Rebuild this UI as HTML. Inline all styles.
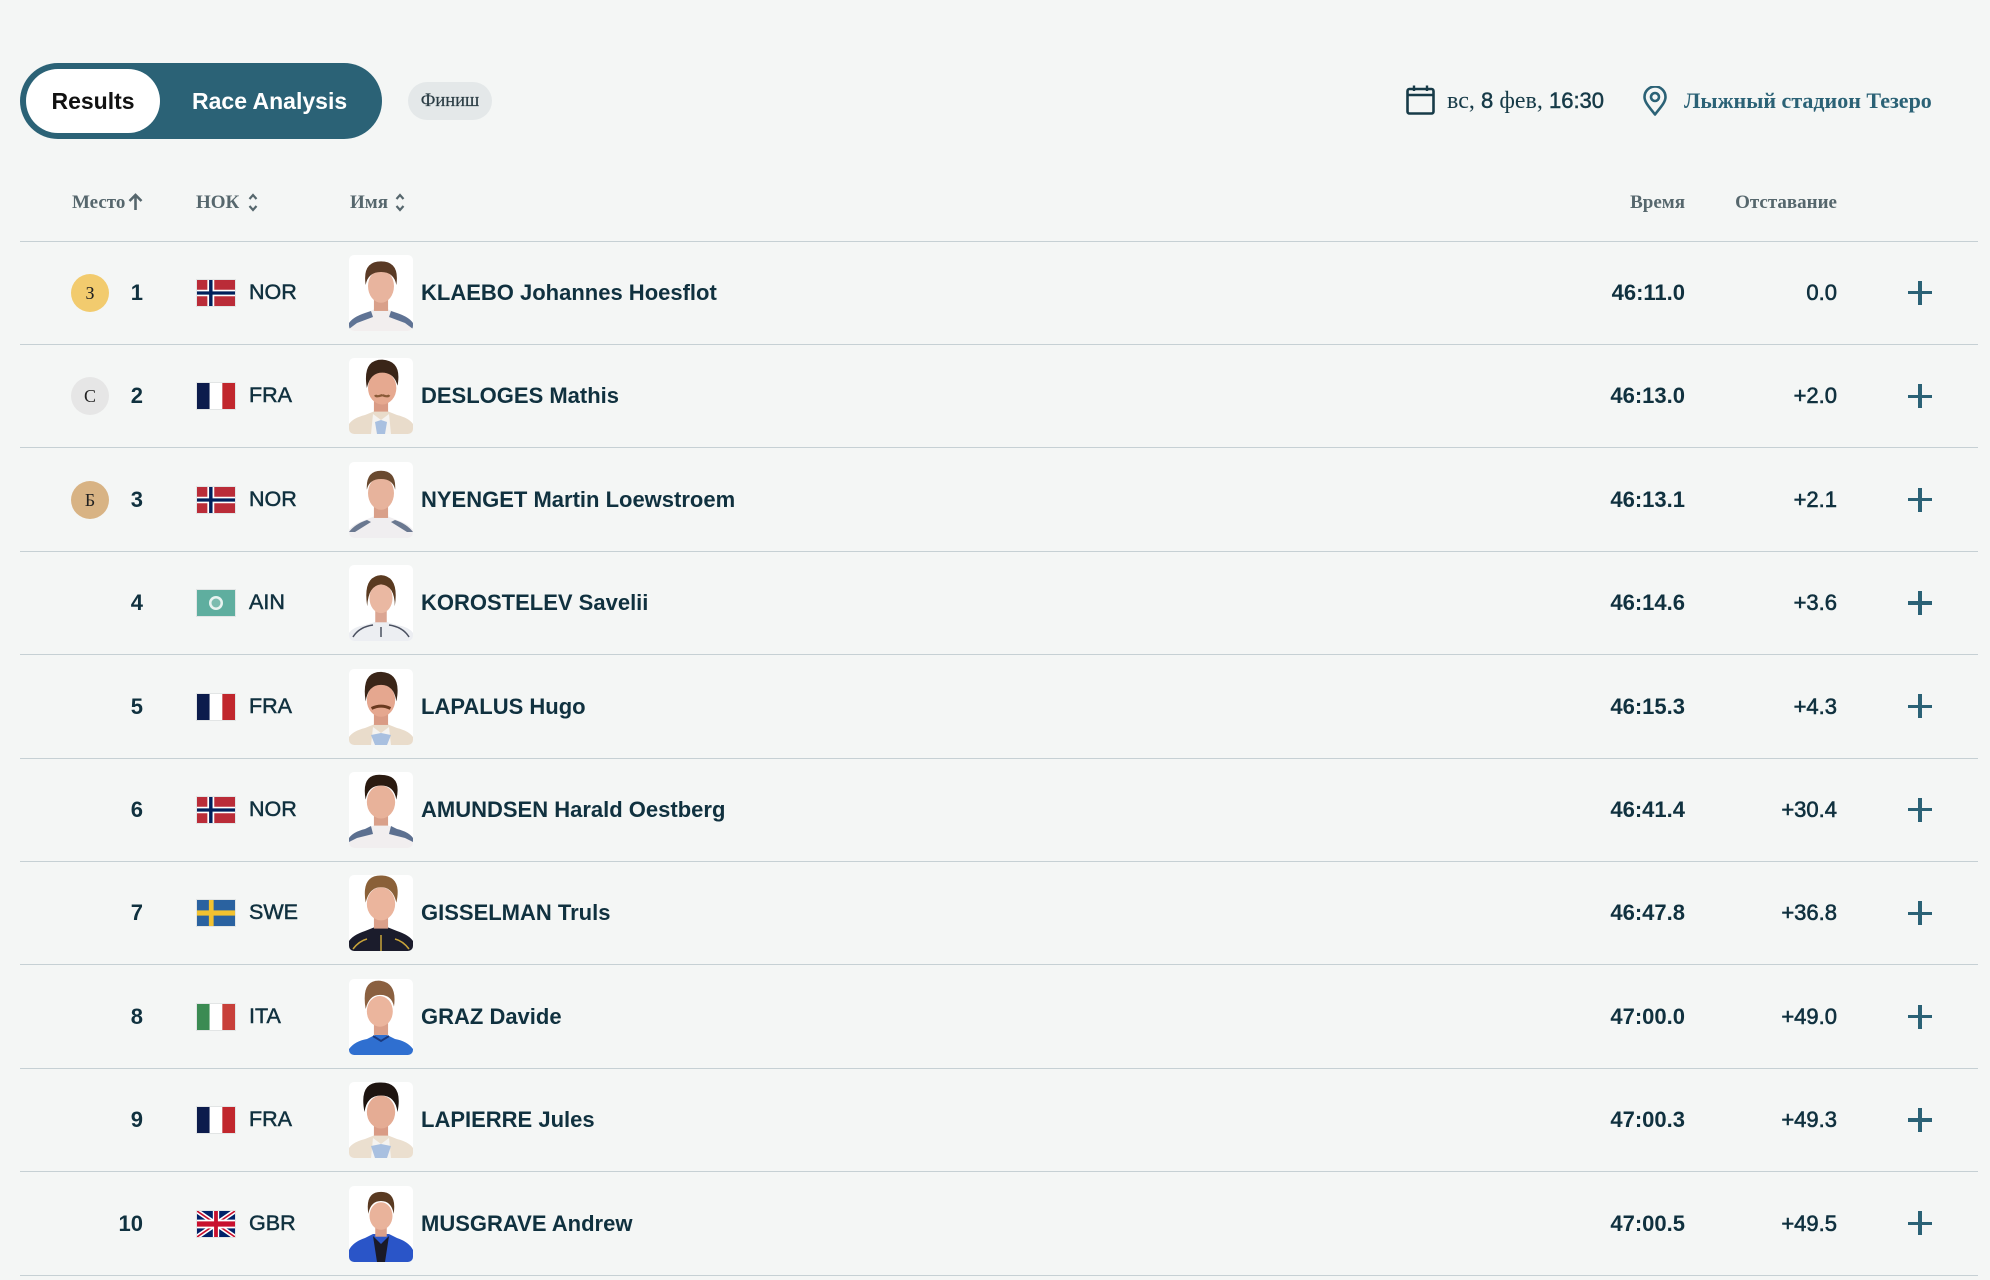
<!DOCTYPE html>
<html><head><meta charset="utf-8">
<style>
*{margin:0;padding:0;box-sizing:border-box}
html,body{width:1990px;height:1280px;overflow:hidden;background:#f4f6f5}
body{position:relative;font-family:"Liberation Sans",sans-serif;color:#10313f}
.abs{position:absolute}
.serif{font-family:"Liberation Serif",serif}
.toggle{left:20px;top:63px;width:362px;height:76px;border-radius:38px;background:#2b6276}
.pill{left:26px;top:69px;width:134px;height:64px;border-radius:32px;background:#fff;text-align:center;line-height:64px;font-weight:bold;font-size:23px;color:#111}
.ra{left:192px;top:63px;line-height:76px;font-size:23px;font-weight:bold;color:#fff}
.chip{left:408px;top:82px;width:84px;height:38px;border-radius:19px;background:#e4e8e9;text-align:center;line-height:38px;font-size:18.5px;color:#2a3c44;font-family:"Liberation Serif",serif;-webkit-text-stroke:0.2px #2a3c44}
.hd{top:191px;line-height:24px;font-family:"Liberation Serif",serif;font-weight:bold;font-size:19px;color:#56676d;white-space:nowrap}
.line{left:20px;width:1958px;height:1px;background:#c6d0d4}
.row{left:0;width:1990px;height:103.4px}
.row>*{position:absolute}
.medal{left:71px;top:33px;width:38px;height:38px;border-radius:50%;text-align:center;line-height:38px;font-family:"Liberation Serif",serif;font-size:18px;color:#222}
.rank{left:80px;width:63px;text-align:right;top:0;line-height:103.4px;font-size:22px;font-weight:bold}
.flag{left:197px;top:39px;width:38px;height:26px;outline:1px solid #e2e5e5}
.flag svg{display:block;width:38px;height:26px}
.noc{left:249px;top:0;line-height:103.4px;font-size:21.5px;-webkit-text-stroke:0.5px #10313f}
.ph{left:349px;top:14px;width:64px;height:76px;border-radius:5px;overflow:hidden;background:#fff}
.ph svg{display:block}
.nm{left:421px;top:0;line-height:103.4px;font-size:22px;font-weight:bold;white-space:nowrap}
.tm{right:305px;top:0;line-height:103.4px;font-size:22px;font-weight:bold}
.gp{right:153px;top:0;line-height:103.4px;font-size:22px;-webkit-text-stroke:0.6px #10313f}
.plh{left:1908px;top:50.2px;width:24px;height:3.2px;background:#2b6276}
.plv{left:1918.4px;top:39.8px;width:3.2px;height:24px;background:#2b6276}
</style></head><body>

<div class="abs toggle"></div>
<div class="abs pill">Results</div>
<div class="abs ra">Race Analysis</div>
<div class="abs chip">Финиш</div>

<svg class="abs" style="left:1406px;top:85px" width="30" height="30" viewBox="0 0 30 30">
<rect x="1.5" y="4" width="26" height="24.5" rx="2" fill="none" stroke="#173b48" stroke-width="2.6"/>
<line x1="1.5" y1="10" x2="27.5" y2="10" stroke="#173b48" stroke-width="2.4"/>
<line x1="8" y1="0.5" x2="8" y2="6" stroke="#173b48" stroke-width="2.4"/>
<line x1="21" y1="0.5" x2="21" y2="6" stroke="#173b48" stroke-width="2.4"/>
</svg>
<div class="abs" style="left:1447px;top:86px;line-height:30px;font-size:22px;color:#173b48;white-space:nowrap"><span class="serif" style="font-size:24px">вс,</span><span style="-webkit-text-stroke:0.5px #173b48"> 8 </span><span class="serif" style="font-size:24px">фев,</span><span style="-webkit-text-stroke:0.5px #173b48"> 16:30</span></div>

<svg class="abs" style="left:1642px;top:86px" width="26" height="30" viewBox="0 0 26 30">
<path d="M13 28.5 C8 22 2.5 16.5 2.5 11 A10.5 10.5 0 0 1 23.5 11 C23.5 16.5 18 22 13 28.5Z" fill="none" stroke="#2b6276" stroke-width="2.6" stroke-linejoin="round"/>
<circle cx="13" cy="11" r="4" fill="none" stroke="#2b6276" stroke-width="2.6"/>
</svg>
<div class="abs serif" style="left:1684px;top:86px;line-height:30px;font-size:22px;font-weight:bold;color:#2b6276;white-space:nowrap">Лыжный стадион Тезеро</div>

<div class="abs hd" style="left:72px">Место</div>
<svg class="abs" style="left:128px;top:193px" width="15" height="18" viewBox="0 0 15 18"><path d="M7.5 17V2 M1.5 8 L7.5 2 L13.5 8" fill="none" stroke="#56676d" stroke-width="2.6"/></svg>
<div class="abs hd" style="left:196px">НОК</div>
<svg class="abs" style="left:248px;top:193px" width="10" height="19" viewBox="0 0 10 19"><path d="M1.5 6 L5 2 L8.5 6 M1.5 13 L5 17 L8.5 13" fill="none" stroke="#56676d" stroke-width="2.2"/></svg>
<div class="abs hd" style="left:350px">Имя</div>
<svg class="abs" style="left:395px;top:193px" width="10" height="19" viewBox="0 0 10 19"><path d="M1.5 6 L5 2 L8.5 6 M1.5 13 L5 17 L8.5 13" fill="none" stroke="#56676d" stroke-width="2.2"/></svg>
<div class="abs hd" style="right:305px">Время</div>
<div class="abs hd" style="right:153px">Отставание</div>

<div class="abs line" style="top:240.5px"></div>
<div class="abs line" style="top:344px"></div>
<div class="abs line" style="top:447.3px"></div>
<div class="abs line" style="top:550.7px"></div>
<div class="abs line" style="top:654.1px"></div>
<div class="abs line" style="top:757.5px"></div>
<div class="abs line" style="top:860.9px"></div>
<div class="abs line" style="top:964.3px"></div>
<div class="abs line" style="top:1067.7px"></div>
<div class="abs line" style="top:1171.1px"></div>
<div class="abs line" style="top:1274.5px"></div>

<!-- Row 1 -->
<div class="abs row" style="top:241px">
<div class="medal" style="background:#f2cb6e">З</div>
<div class="rank">1</div>
<div class="flag"><svg viewBox="0 0 22 16" preserveAspectRatio="none"><rect width="22" height="16" fill="#ba2c38"/><rect x="6" width="4" height="16" fill="#fff"/><rect y="6" width="22" height="4" fill="#fff"/><rect x="7" width="2" height="16" fill="#00205b"/><rect y="7" width="22" height="2" fill="#00205b"/></svg></div>
<div class="noc">NOR</div>
<div class="ph"><svg width="64" height="76" viewBox="0 0 64 76"><path d="M0 76V68Q4 62 16 58L26 54H38L48 58Q60 62 64 68V76Z" fill="#f2eeee"/><path d="M0 68Q4 62 16 58L22 56 24 62 8 68 0 74Z M64 68Q60 62 48 58L42 56 40 62 56 68 64 74Z" fill="#5f7394"/><g transform="translate(32 30) scale(1.18) translate(-32 -30)"><rect x="26" y="42" width="12" height="10" fill="#d9a08a"/><ellipse cx="32" cy="31" rx="11" ry="14" fill="#e8b49e"/><path d="M19 30Q16 10 32 10Q48 10 45 30Q43 19 32 19Q21 19 19 30Z" fill="#5a3a25"/></g></svg></div>
<div class="nm">KLAEBO Johannes Hoesflot</div>
<div class="tm">46:11.0</div>
<div class="gp">0.0</div>
<div class="plh"></div><div class="plv"></div>
</div>

<!-- Row 2 -->
<div class="abs row" style="top:344.4px">
<div class="medal" style="background:#e6e6e6">С</div>
<div class="rank">2</div>
<div class="flag"><svg viewBox="0 0 3 2" preserveAspectRatio="none"><rect width="1" height="2" fill="#0c1c4c"/><rect x="1" width="1" height="2" fill="#fff"/><rect x="2" width="1" height="2" fill="#c1272d"/></svg></div>
<div class="noc">FRA</div>
<div class="ph"><svg width="64" height="76" viewBox="0 0 64 76"><path d="M0 76V66Q4 60 16 57L26 53H38L48 57Q60 60 64 66V76Z" fill="#e9dccb"/><path d="M24 56L32 62 40 56 42 76H22Z" fill="#f5f3f0"/><path d="M26 64L32 62 38 64 36 76H28Z" fill="#a9c0e0"/><g transform="translate(32 30) scale(1.18) translate(-32 -30)"><rect x="26" y="40" width="12" height="10" fill="#d99b85"/><ellipse cx="33" cy="30" rx="12" ry="14" fill="#e6a990"/><path d="M33 36Q28 38 27 36 M33 36Q38 38 39 36" stroke="#8a5a38" stroke-width="2" fill="none"/><path d="M20 30Q16 6 33 6Q50 7 46 28Q43 17 33 17Q23 17 20 30Z" fill="#3a2518"/></g></svg></div>
<div class="nm">DESLOGES Mathis</div>
<div class="tm">46:13.0</div>
<div class="gp">+2.0</div>
<div class="plh"></div><div class="plv"></div>
</div>

<!-- Row 3 -->
<div class="abs row" style="top:447.8px">
<div class="medal" style="background:#d8b384">Б</div>
<div class="rank">3</div>
<div class="flag"><svg viewBox="0 0 22 16" preserveAspectRatio="none"><rect width="22" height="16" fill="#ba2c38"/><rect x="6" width="4" height="16" fill="#fff"/><rect y="6" width="22" height="4" fill="#fff"/><rect x="7" width="2" height="16" fill="#00205b"/><rect y="7" width="22" height="2" fill="#00205b"/></svg></div>
<div class="noc">NOR</div>
<div class="ph"><svg width="64" height="76" viewBox="0 0 64 76"><path d="M0 76V68Q4 62 16 58L26 54H38L48 58Q60 62 64 68V76Z" fill="#f0eef0"/><path d="M0 70Q6 62 18 58L22 60 6 70Z M64 70Q58 62 46 58L42 60 58 70Z" fill="#6a7890"/><g transform="translate(32 30) scale(1.18) translate(-32 -30)"><rect x="26" y="42" width="12" height="10" fill="#d9a08a"/><ellipse cx="32" cy="31" rx="11" ry="14" fill="#e7b39c"/><path d="M20 28Q19 12 32 12Q45 12 44 28Q42 19 32 19Q22 19 20 28Z" fill="#6a4a30"/></g></svg></div>
<div class="nm">NYENGET Martin Loewstroem</div>
<div class="tm">46:13.1</div>
<div class="gp">+2.1</div>
<div class="plh"></div><div class="plv"></div>
</div>

<!-- Row 4 -->
<div class="abs row" style="top:551.2px">
<div class="rank">4</div>
<div class="flag"><svg viewBox="0 0 38 26" preserveAspectRatio="none"><rect width="38" height="26" fill="#5fae9f"/><circle cx="19" cy="13" r="7" fill="#e8f3f0"/><circle cx="19" cy="13" r="4.5" fill="#7cbcaf"/></svg></div>
<div class="noc">AIN</div>
<div class="ph"><svg width="64" height="76" viewBox="0 0 64 76"><path d="M0 76V68Q4 62 16 60L26 57H38L48 60Q60 62 64 68V76Z" fill="#eceef2"/><path d="M4 72Q10 62 24 60 M60 72Q54 62 40 60 M32 62V72" stroke="#4a5060" stroke-width="1.5" fill="none"/><g transform="translate(32 32) scale(1.15) translate(-32 -32)"><rect x="27" y="44" width="10" height="10" fill="#dba592"/><ellipse cx="32" cy="33" rx="10" ry="13" fill="#eab8a2"/><path d="M20 40Q16 14 32 13Q48 14 44 40Q44 22 32 21Q21 22 20 40Z" fill="#5a3a20"/></g></svg></div>
<div class="nm">KOROSTELEV Savelii</div>
<div class="tm">46:14.6</div>
<div class="gp">+3.6</div>
<div class="plh"></div><div class="plv"></div>
</div>

<!-- Row 5 -->
<div class="abs row" style="top:654.6px">
<div class="rank">5</div>
<div class="flag"><svg viewBox="0 0 3 2" preserveAspectRatio="none"><rect width="1" height="2" fill="#0c1c4c"/><rect x="1" width="1" height="2" fill="#fff"/><rect x="2" width="1" height="2" fill="#c1272d"/></svg></div>
<div class="noc">FRA</div>
<div class="ph"><svg width="64" height="76" viewBox="0 0 64 76"><path d="M0 76V68Q4 62 16 59L26 55H38L48 59Q60 62 64 68V76Z" fill="#e9dccb"/><path d="M24 58L32 64 40 58 42 76H22Z" fill="#f5f3f0"/><path d="M22 66L32 64 42 66 38 76H26Z" fill="#a9c0e0"/><g transform="translate(32 30) scale(1.18) translate(-32 -30)"><rect x="26" y="42" width="12" height="10" fill="#d99b85"/><ellipse cx="32" cy="31" rx="12" ry="14" fill="#e5a78f"/><path d="M24 38Q32 34 40 38" stroke="#6a3a20" stroke-width="2.5" fill="none"/><path d="M19 32Q15 7 32 7Q50 8 45 32Q43 18 32 18Q21 18 19 32Z" fill="#3a2518"/></g></svg></div>
<div class="nm">LAPALUS Hugo</div>
<div class="tm">46:15.3</div>
<div class="gp">+4.3</div>
<div class="plh"></div><div class="plv"></div>
</div>

<!-- Row 6 -->
<div class="abs row" style="top:758px">
<div class="rank">6</div>
<div class="flag"><svg viewBox="0 0 22 16" preserveAspectRatio="none"><rect width="22" height="16" fill="#ba2c38"/><rect x="6" width="4" height="16" fill="#fff"/><rect y="6" width="22" height="4" fill="#fff"/><rect x="7" width="2" height="16" fill="#00205b"/><rect y="7" width="22" height="2" fill="#00205b"/></svg></div>
<div class="noc">NOR</div>
<div class="ph"><svg width="64" height="76" viewBox="0 0 64 76"><path d="M0 76V66Q4 60 16 57L26 53H38L48 57Q60 60 64 66V76Z" fill="#f1eeef"/><path d="M0 66Q4 60 16 57L22 54 24 62 8 66 0 70Z M64 66Q60 60 48 57L42 54 40 62 56 66 64 70Z" fill="#5c7090"/><g transform="translate(32 30) scale(1.18) translate(-32 -30)"><rect x="26" y="40" width="12" height="10" fill="#d9a08a"/><ellipse cx="32" cy="30" rx="12" ry="14" fill="#e8b29a"/><path d="M19 28Q15 6 32 7Q50 7 45 28Q43 16 32 16Q21 16 19 28Z" fill="#2a1a10"/></g></svg></div>
<div class="nm">AMUNDSEN Harald Oestberg</div>
<div class="tm">46:41.4</div>
<div class="gp">+30.4</div>
<div class="plh"></div><div class="plv"></div>
</div>

<!-- Row 7 -->
<div class="abs row" style="top:861.4px">
<div class="rank">7</div>
<div class="flag"><svg viewBox="0 0 16 10" preserveAspectRatio="none"><rect width="16" height="10" fill="#2a62a0"/><rect x="5" width="2" height="10" fill="#f2c230"/><rect y="4" width="16" height="2" fill="#f2c230"/></svg></div>
<div class="noc">SWE</div>
<div class="ph"><svg width="64" height="76" viewBox="0 0 64 76"><path d="M0 76V66Q4 60 16 56L26 52H38L48 56Q60 60 64 66V76Z" fill="#1b1c2c"/><path d="M4 74Q10 66 18 64 M60 74Q54 66 46 64 M32 60V76" stroke="#c9a43a" stroke-width="1.5" fill="none"/><g transform="translate(32 30) scale(1.18) translate(-32 -30)"><rect x="26" y="40" width="12" height="10" fill="#dba08a"/><ellipse cx="32" cy="29" rx="12" ry="14" fill="#ebb59d"/><path d="M19 28Q15 4 33 5Q50 6 45 28Q42 15 32 15Q22 15 19 28Z" fill="#8a6038"/></g></svg></div>
<div class="nm">GISSELMAN Truls</div>
<div class="tm">46:47.8</div>
<div class="gp">+36.8</div>
<div class="plh"></div><div class="plv"></div>
</div>

<!-- Row 8 -->
<div class="abs row" style="top:964.8px">
<div class="rank">8</div>
<div class="flag"><svg viewBox="0 0 3 2" preserveAspectRatio="none"><rect width="1" height="2" fill="#3b8b53"/><rect x="1" width="1" height="2" fill="#fff"/><rect x="2" width="1" height="2" fill="#c8403a"/></svg></div>
<div class="noc">ITA</div>
<div class="ph"><svg width="64" height="76" viewBox="0 0 64 76"><path d="M0 76V70Q6 62 18 60L26 56H38L46 60Q58 62 64 70V76Z" fill="#2f6fd0"/><path d="M24 57L32 62 40 57" stroke="#1a3a80" stroke-width="2" fill="none"/><g transform="translate(32 30) scale(1.18) translate(-32 -30)"><rect x="26" y="42" width="12" height="10" fill="#dba08a"/><ellipse cx="31" cy="32" rx="11" ry="13" fill="#ebb59d"/><path d="M19 30Q15 6 30 6Q46 7 43 28Q41 18 31 18Q22 18 19 30Z" fill="#8a6040"/></g></svg></div>
<div class="nm">GRAZ Davide</div>
<div class="tm">47:00.0</div>
<div class="gp">+49.0</div>
<div class="plh"></div><div class="plv"></div>
</div>

<!-- Row 9 -->
<div class="abs row" style="top:1068.2px">
<div class="rank">9</div>
<div class="flag"><svg viewBox="0 0 3 2" preserveAspectRatio="none"><rect width="1" height="2" fill="#0c1c4c"/><rect x="1" width="1" height="2" fill="#fff"/><rect x="2" width="1" height="2" fill="#c1272d"/></svg></div>
<div class="noc">FRA</div>
<div class="ph"><svg width="64" height="76" viewBox="0 0 64 76"><path d="M0 76V66Q4 60 16 57L26 53H38L48 57Q60 60 64 66V76Z" fill="#ebdfcf"/><path d="M24 56L32 62 40 56 42 76H22Z" fill="#f5f3f0"/><path d="M22 64L32 62 42 64 38 76H26Z" fill="#a9c0e0"/><g transform="translate(32 30) scale(1.18) translate(-32 -30)"><rect x="26" y="40" width="12" height="10" fill="#d99b85"/><ellipse cx="32" cy="30" rx="12" ry="14" fill="#e5ac94"/><path d="M18 30Q13 4 32 5Q51 5 46 30Q44 16 32 16Q20 16 18 30Z" fill="#1e1410"/></g></svg></div>
<div class="nm">LAPIERRE Jules</div>
<div class="tm">47:00.3</div>
<div class="gp">+49.3</div>
<div class="plh"></div><div class="plv"></div>
</div>

<!-- Row 10 -->
<div class="abs row" style="top:1171.6px">
<div class="rank">10</div>
<div class="flag"><svg viewBox="0 0 60 30" preserveAspectRatio="none"><rect width="60" height="30" fill="#012169"/><path d="M0,0 L60,30 M60,0 L0,30" stroke="#fff" stroke-width="6"/><path d="M0,0 L60,30 M60,0 L0,30" stroke="#C8102E" stroke-width="2"/><path d="M30,0 v30 M0,15 h60" stroke="#fff" stroke-width="10"/><path d="M30,0 v30 M0,15 h60" stroke="#C8102E" stroke-width="6"/></svg></div>
<div class="noc">GBR</div>
<div class="ph"><svg width="64" height="76" viewBox="0 0 64 76"><path d="M0 76V64Q4 56 16 52L24 48H40L48 52Q60 56 64 64V76Z" fill="#2a55c8"/><path d="M24 50L32 58 40 50 36 76H28Z" fill="#1a1a28"/><g transform="translate(32 30) scale(1.15) translate(-32 -30)"><rect x="27" y="40" width="10" height="8" fill="#dba08a"/><ellipse cx="32" cy="30" rx="10" ry="12" fill="#e9b39b"/><path d="M21 28Q18 9 32 9Q46 9 43 28Q41 17 32 17Q23 17 21 28Z" fill="#5a3a22"/></g></svg></div>
<div class="nm">MUSGRAVE Andrew</div>
<div class="tm">47:00.5</div>
<div class="gp">+49.5</div>
<div class="plh"></div><div class="plv"></div>
</div>

</body></html>
